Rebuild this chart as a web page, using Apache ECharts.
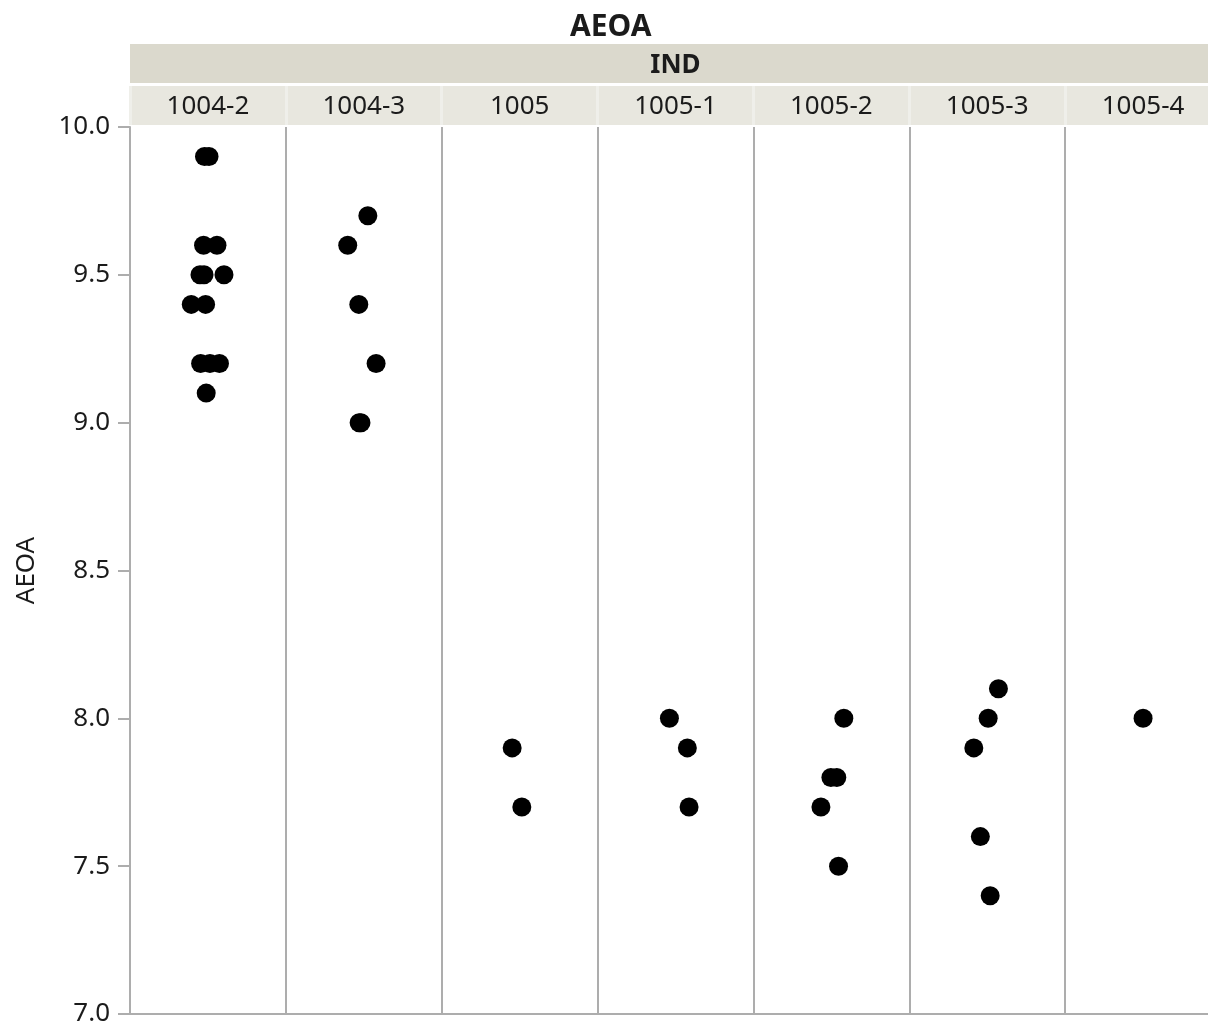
<!DOCTYPE html>
<html><head><meta charset="utf-8">
<script src="https://cdn.jsdelivr.net/npm/echarts@6/dist/echarts.min.js"></script>
<style>html,body{margin:0;padding:0;background:#fff;overflow:hidden}#c{width:1208px;height:1028px}</style>
</head><body><div id="c"></div>
<script>
// ---- data ----
const chartTitle = 'AEOA';
const groupTitle = 'IND';
const yAxisTitle = 'AEOA';
const categories = ['1004-2', '1004-3', '1005', '1005-1', '1005-2', '1005-3', '1005-4'];
const yMin = 7.0, yMax = 10.0, yStep = 0.5;
// each point: its category index, its AEOA value, and its horizontal jitter (in category widths)
const pointGroup = [0,0,0,0,0,0,0,0,0,0,0,0,0, 1,1,1,1,1,1, 2,2, 3,3,3, 4,4,4,4,4, 5,5,5,5,5, 6];
const pointValue = [9.9,9.9,9.6,9.6,9.5,9.5,9.5,9.4,9.4,9.2,9.2,9.2,9.1,
                    9.7,9.6,9.4,9.2,9.0,9.0,
                    7.9,7.7,
                    8.0,7.9,7.7,
                    8.0,7.8,7.8,7.7,7.5,
                    8.1,8.0,7.9,7.6,7.4,
                    8.0];
const pointJitter = [-0.022,0.007,-0.028,0.058,-0.051,-0.025,0.103,-0.107,-0.015,-0.047,0.013,0.074,-0.011,
                     0.026,-0.103,-0.032,0.079,-0.030,-0.018,
                     -0.048,0.014,
                     -0.039,0.076,0.087,
                     0.080,-0.003,0.035,-0.067,0.046,
                     0.072,0.006,-0.086,-0.044,0.019,
                     0.0];

// ---- chart ----
const FONT = '"Noto Sans", "DejaVu Sans", sans-serif';
const LINE = '#ADADAD';
const TXT = '#1b1b1b';
const points = pointValue.map((v, i) => [pointGroup[i] + 0.5 + pointJitter[i], v]);

const chart = echarts.init(document.getElementById('c'), null, {renderer: 'canvas'});
chart.setOption({
  backgroundColor: '#ffffff',
  animation: false,
  title: {
    text: chartTitle, left: 565, top: 7,
    textStyle: {fontFamily: FONT, fontSize: 30, fontWeight: 'bold', color: TXT}
  },
  grid: [
    {left: 130, right: -13, top: 127, bottom: 14, containLabel: false, outerBoundsMode: 'none'},
    {left: 130, right: -13, top: 86, height: 39, containLabel: false, outerBoundsMode: 'none'},
    {left: 130, right: -13, top: 44, height: 39, containLabel: false, outerBoundsMode: 'none'}
  ],
  xAxis: [
    {
      gridIndex: 0, type: 'value', min: 0, max: categories.length, interval: 1,
      axisLine: {show: true, onZero: false, lineStyle: {color: LINE, width: 2}},
      axisTick: {show: false}, axisLabel: {show: false},
      splitLine: {show: true, lineStyle: {color: LINE, width: 2}}
    },
    {
      gridIndex: 1, type: 'category', data: categories, position: 'bottom',
      axisLine: {show: false}, axisTick: {show: false},
      axisLabel: {inside: true, margin: 18, verticalAlign: 'middle', fontFamily: FONT, fontSize: 26, color: TXT},
      splitArea: {show: true, areaStyle: {color: ['#E8E7DF']}},
      splitLine: {show: true, lineStyle: {color: '#EFEFEA', width: 3}}
    },
    {
      gridIndex: 2, type: 'category', data: [groupTitle], position: 'bottom',
      axisLine: {show: false}, axisTick: {show: false},
      axisLabel: {inside: true, margin: 17, verticalAlign: 'middle', fontFamily: FONT, fontSize: 26, fontWeight: 'bold', color: TXT},
      splitArea: {show: true, areaStyle: {color: ['#DBD9CD']}},
      splitLine: {show: false}
    }
  ],
  yAxis: [
    {
      gridIndex: 0, type: 'value', min: yMin, max: yMax, interval: yStep,
      name: yAxisTitle, nameLocation: 'middle', nameGap: 90, nameRotate: 90,
      nameTextStyle: {fontFamily: FONT, fontSize: 26, color: TXT},
      axisLine: {show: true, lineStyle: {color: LINE, width: 2}},
      axisTick: {show: true, length: 12, lineStyle: {color: LINE, width: 2}},
      axisLabel: {margin: 20, fontFamily: FONT, fontSize: 26, color: TXT,
                  formatter: v => v.toFixed(1)},
      splitLine: {show: false}
    },
    {gridIndex: 1, type: 'value', min: 0, max: 1, show: false},
    {gridIndex: 2, type: 'value', min: 0, max: 1, show: false}
  ],
  series: [{
    type: 'scatter', xAxisIndex: 0, yAxisIndex: 0,
    symbol: 'circle', symbolSize: 19,
    itemStyle: {color: '#000000', opacity: 1},
    data: points
  }]
});
</script>
</body></html>
